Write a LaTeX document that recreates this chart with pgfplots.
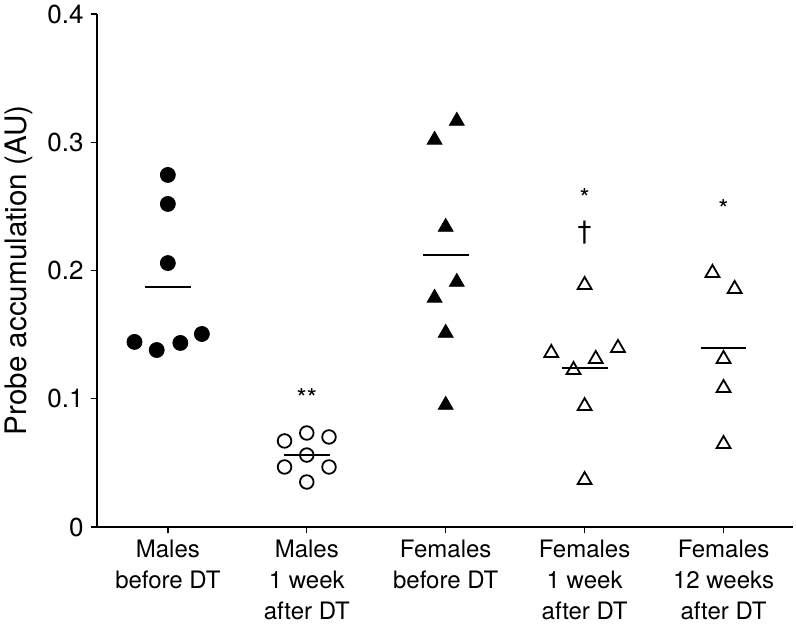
\documentclass[border=0pt]{standalone}
\usepackage{fontspec}
\setmainfont{TeX Gyre Heros}
\usepackage{pgfplots}
\pgfplotsset{compat=1.18}
\begin{document}
\begin{tikzpicture}
\useasboundingbox (-48.5pt,-48.5pt) rectangle (349.5pt,263.5pt);
\begin{axis}[
 at={(0,0)}, anchor=south west,
 scale only axis, width=348pt, height=256.5pt,
 xmin=0.49, xmax=5.5, ymin=0, ymax=0.4,
 axis x line*=bottom, axis y line*=left,
 axis line style={line width=0.65pt},
 tick style={line width=0.65pt, black},
 tick align=outside, major tick length=3.2pt,
 xtick={1,2,3,4,5},
 xticklabels={{Males\\before DT},{Males\\1 week\\after DT},{Females\\before DT},{Females\\1 week\\after DT},{Females\\12 weeks\\after DT}},
 xticklabel style={align=center, font=\fontsize{12}{15.5}\selectfont},
 ytick={0,0.1,0.2,0.3,0.4},
 yticklabels={0,0.1,0.2,0.3,0.4},
 yticklabel style={font=\fontsize{13}{15}\selectfont},
 ylabel={Probe accumulation (AU)},
 ylabel style={font=\fontsize{14.8}{16}\selectfont, at={(axis description cs:-0.112,0.5)}, anchor=center},
 clip=false,
]
% Males before DT
\addplot[only marks, mark=*, mark size=3.75pt, black] coordinates {
 (1,0.2745) (1,0.2519) (1,0.2058) (0.76,0.1443) (0.92,0.1380) (1.09,0.1435) (1.245,0.1505)};
% Males 1 week after DT
\addplot[only marks, mark=o, mark size=3.4pt, mark options={line width=0.9pt}, black] coordinates {
 (2,0.0733) (1.84,0.0671) (2.16,0.0702) (2,0.0561) (1.84,0.0468) (2.16,0.0468) (2,0.0351)};
% Females before DT
\addplot[only marks, mark=triangle*, mark size=4.3pt, black] coordinates {
 (3.08,0.3166) (2.92,0.3018) (3,0.2339) (3.08,0.1910) (2.92,0.1786) (3,0.1513) (3,0.0951)};
% Females 1 week after DT
\addplot[only marks, mark=triangle, mark size=4.0pt, mark options={line width=0.9pt}, black] coordinates {
 (4,0.1887) (3.76,0.1357) (4.24,0.1396) (4.08,0.1310) (3.92,0.1224) (4,0.0943) (4,0.0366)};
% Females 12 weeks after DT
\addplot[only marks, mark=triangle, mark size=4.0pt, mark options={line width=0.9pt}, black] coordinates {
 (4.92,0.1981) (5.08,0.1856) (5,0.1310) (5,0.1084) (5,0.0647)};
% means
\addplot[black, line width=1pt] coordinates {(0.835,0.1871) (1.165,0.1871)};
\addplot[black, line width=1pt] coordinates {(1.835,0.0561) (2.165,0.0561)};
\addplot[black, line width=1pt] coordinates {(2.835,0.2121) (3.165,0.2121)};
\addplot[black, line width=1pt] coordinates {(3.835,0.1240) (4.165,0.1240)};
\addplot[black, line width=1pt] coordinates {(4.835,0.1396) (5.165,0.1396)};
% significance marks
\addplot[draw=none, nodes near coords, point meta=explicit symbolic,
 nodes near coords style={anchor=base, font=\fontsize{13}{13}\selectfont, inner sep=0pt}]
 coordinates {(2,0.0928)[**] (4,0.2495)[*] (5,0.2409)[*]};
\addplot[draw=none, nodes near coords, point meta=explicit symbolic,
 nodes near coords style={anchor=center, font=\fontsize{13}{13}\selectfont, inner sep=0pt}]
 coordinates {(4,0.2292)[\textdagger]};
\end{axis}
\end{tikzpicture}
\end{document}
